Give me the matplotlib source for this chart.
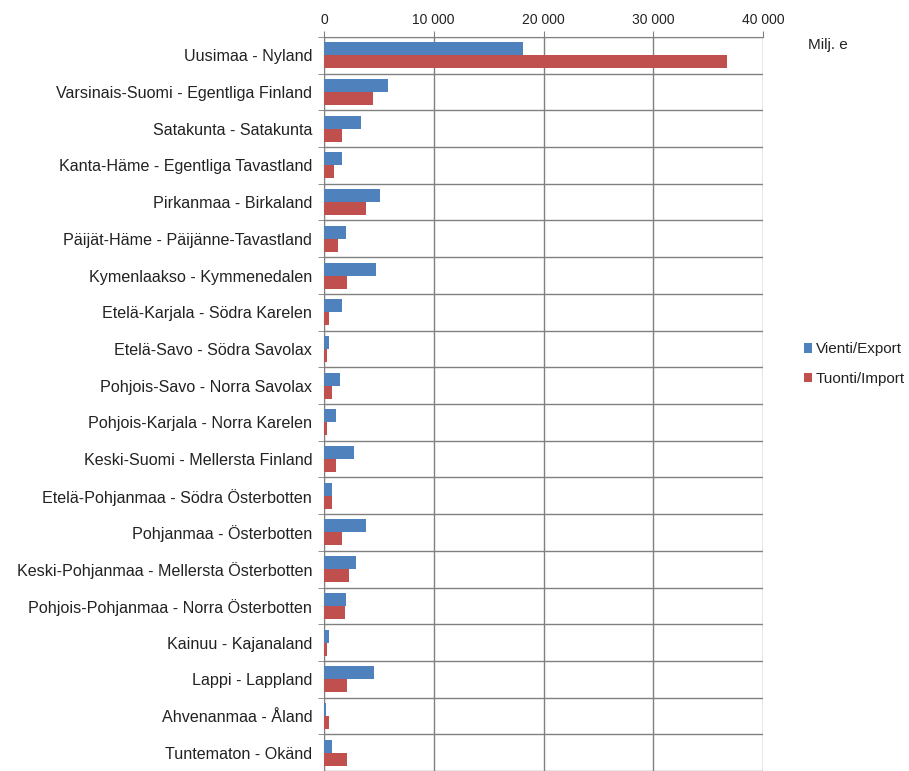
import numpy as np
import matplotlib.pyplot as plt
from matplotlib.ticker import FuncFormatter

plt.rcParams['font.family'] = ['Liberation Sans', 'DejaVu Sans']

regions = ['Uusimaa - Nyland', 'Varsinais-Suomi - Egentliga Finland', 'Satakunta - Satakunta',
           'Kanta-Häme - Egentliga Tavastland', 'Pirkanmaa - Birkaland',
           'Päijät-Häme - Päijänne-Tavastland', 'Kymenlaakso - Kymmenedalen',
           'Etelä-Karjala - Södra Karelen', 'Etelä-Savo - Södra Savolax',
           'Pohjois-Savo - Norra Savolax', 'Pohjois-Karjala - Norra Karelen',
           'Keski-Suomi - Mellersta Finland', 'Etelä-Pohjanmaa - Södra Österbotten',
           'Pohjanmaa - Österbotten', 'Keski-Pohjanmaa - Mellersta Österbotten',
           'Pohjois-Pohjanmaa - Norra Österbotten', 'Kainuu - Kajanaland',
           'Lappi - Lappland', 'Ahvenanmaa - Åland', 'Tuntematon - Okänd']
vienti = [18100, 5800, 3400, 1600, 5100, 2000, 4700, 1600, 500, 1500, 1100, 2700,
          750, 3800, 2900, 2000, 500, 4600, 150, 750]
tuonti = [36700, 4500, 1600, 900, 3800, 1300, 2100, 500, 300, 700, 300, 1100,
          700, 1600, 2300, 1950, 250, 2100, 500, 2100]

fig = plt.figure(figsize=(9.09, 7.71), dpi=100)
ax = fig.add_axes([324 / 909, 0.0, (763 - 324) / 909, (771 - 37) / 771])

n = len(regions)
y = np.arange(n)
h = 0.355
ax.barh(y - h / 2, vienti, height=h, color='#4F81BD', label='Vienti/Export', zorder=3)
ax.barh(y + h / 2, tuonti, height=h, color='#C0504D', label='Tuonti/Import', zorder=3)

ax.set_xlim(0, 40000)
ax.set_ylim(n - 0.5, -0.5)
ax.xaxis.tick_top()
ax.set_xticks([0, 10000, 20000, 30000, 40000])
ax.xaxis.set_major_formatter(FuncFormatter(lambda v, p: f'{int(v):,}'.replace(',', ' ')))
ax.set_yticks(y)
ax.set_yticklabels(regions)
ax.set_yticks(np.arange(n + 1) - 0.5, minor=True)
ax.tick_params(axis='y', which='major', length=0, pad=8.5, labelsize=11.6, labelcolor='#222222')
ax.tick_params(axis='y', which='minor', length=4, color='#808080')
ax.tick_params(axis='x', length=4, color='#808080', labelsize=10, pad=3, labelcolor='#222222')
ax.grid(axis='x', color='#808080', lw=1, zorder=0)
ax.grid(axis='y', which='minor', color='#808080', lw=1, zorder=0)
for s in ['right', 'bottom']:
    ax.spines[s].set_visible(False)
for s in ['top', 'left']:
    ax.spines[s].set_color('#808080')

fig.text(808 / 909, 1 - 45 / 771, 'Milj. e', fontsize=11, va='center', color='#222222')
fig.legend(loc='center left', bbox_to_anchor=(790 / 909, 1 - 364 / 771), frameon=False,
           fontsize=11, handlelength=0.55, handleheight=0.55, handletextpad=0.25,
           labelspacing=1.0, labelcolor='#222222')

fig.savefig('out.png', dpi=100)
